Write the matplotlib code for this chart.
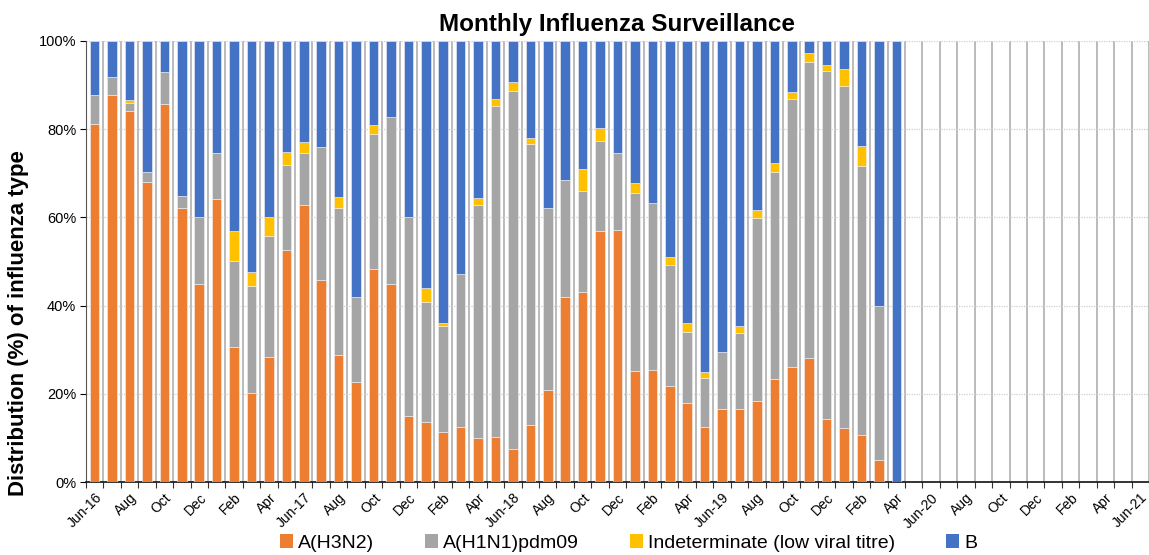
import numpy as np
import matplotlib.pyplot as plt
from matplotlib.patches import Patch

plt.rcParams['font.family'] = ['Liberation Sans', 'DejaVu Sans']

# === Data (percent of each influenza type per month, Jun-16 .. Apr-20) ===
h3n2 = [81.1, 87.7, 84.0, 68.1, 85.7, 62.2, 45.0, 64.2, 30.7, 20.3, 28.4, 52.5,
        62.9, 45.7, 28.9, 22.6, 48.2, 44.8, 14.9, 13.7, 11.5, 12.6, 10.0, 10.3,
        7.5, 12.9, 20.8, 42.0, 43.1, 57.0, 57.1, 25.2, 25.5, 21.7, 18.0, 12.5,
        16.7, 16.5, 18.3, 23.4, 26.0, 28.2, 14.4, 12.4, 10.8, 5.0, 0.0]
h1n1 = [6.6, 4.1, 2.0, 2.2, 7.2, 2.6, 15.0, 10.4, 19.3, 24.2, 27.4, 19.4,
        11.7, 30.2, 33.3, 19.4, 30.6, 37.9, 45.1, 27.1, 23.8, 34.6, 52.9, 74.9,
        81.1, 63.8, 41.3, 26.5, 22.9, 20.3, 17.5, 40.2, 37.7, 27.4, 16.0, 11.1,
        12.7, 17.2, 41.6, 46.8, 60.9, 66.9, 78.7, 77.3, 60.9, 35.0, 0.0]
indet = [0.0, 0.0, 0.5, 0.0, 0.0, 0.0, 0.0, 0.0, 6.8, 3.1, 4.2, 3.0,
         2.5, 0.0, 2.3, 0.0, 2.0, 0.0, 0.0, 3.3, 0.8, 0.0, 1.4, 1.6,
         2.0, 1.3, 0.0, 0.0, 4.9, 2.9, 0.0, 2.4, 0.0, 1.9, 2.0, 1.4,
         0.0, 1.8, 1.8, 2.2, 1.5, 2.0, 1.4, 4.0, 4.4, 0.0, 0.0]
flu_b = [12.3, 8.2, 13.5, 29.7, 7.1, 35.2, 40.0, 25.4, 43.2, 52.4, 40.0, 25.1,
         22.9, 24.1, 35.5, 58.0, 19.2, 17.3, 40.0, 55.9, 63.9, 52.8, 35.7, 13.2,
         9.4, 22.0, 37.9, 31.5, 29.1, 19.8, 25.4, 32.2, 36.8, 49.0, 64.0, 75.0,
         70.6, 64.5, 38.3, 27.6, 11.6, 2.9, 5.5, 6.3, 23.9, 60.0, 100.0]

# axis runs Jun-16 .. Jun-21 (61 months), labelled every second month
tick_labels = ['Jun-16', 'Aug', 'Oct', 'Dec', 'Feb', 'Apr',
               'Jun-17', 'Aug', 'Oct', 'Dec', 'Feb', 'Apr',
               'Jun-18', 'Aug', 'Oct', 'Dec', 'Feb', 'Apr',
               'Jun-19', 'Aug', 'Oct', 'Dec', 'Feb', 'Apr',
               'Jun-20', 'Aug', 'Oct', 'Dec', 'Feb', 'Apr',
               'Jun-21']
n_months = 61

series = [('A(H3N2)', h3n2, '#ED7D31'),
          ('A(H1N1)pdm09', h1n1, '#A5A5A5'),
          ('Indeterminate (low viral titre)', indet, '#FFC000'),
          ('B', flu_b, '#4472C4')]

# === Figure ===
fig = plt.figure(figsize=(11.49, 5.55), dpi=100)
ax = fig.add_axes([0.0748, 0.131, 0.9252, 0.7957])

x = np.arange(len(h3n2))
bottom = np.zeros(len(h3n2))
for name, vals, col in series:
    v = np.array(vals)
    ax.bar(x, v, width=0.55, bottom=bottom, color=col,
           edgecolor='#f2f2f2', linewidth=0.4, zorder=3)
    bottom += v

ax.set_xlim(-0.5, 60.14)
ax.set_ylim(0, 100)

# vertical lines at month boundaries
for b in np.arange(0.5, n_months + 0.5, 1):
    ax.axvline(b, color='#a8a8a8', lw=1.1, zorder=1)

ax.set_yticks(np.arange(0, 101, 20))
ax.set_yticklabels([f'{v}%' for v in range(0, 101, 20)])
ax.yaxis.grid(True, color='#cfcfcf', linestyle=(0, (1, 1)), lw=0.9, zorder=0)

ax.set_xticks(np.arange(0, n_months, 2))
ax.set_xticklabels(tick_labels, rotation=45, ha='right', rotation_mode='anchor')
ax.set_xticks(np.arange(-0.5, n_months, 1), minor=True)
ax.tick_params(axis='x', which='major', length=0, labelsize=10, pad=6)
ax.tick_params(axis='x', which='minor', length=4, width=0.8, color='#333333')
ax.tick_params(axis='y', length=4, width=0.8, labelsize=10.5, pad=3)

for s in ['top', 'right']:
    ax.spines[s].set_visible(False)
ax.spines['left'].set_color('#555555')
ax.spines['bottom'].set_color('#111111')
ax.spines['bottom'].set_linewidth(1.2)

ax.set_title('Monthly Influenza Surveillance', fontsize=17.5, fontweight='bold', pad=7)
ax.set_ylabel('Distribution (%) of influenza type', fontsize=16, fontweight='bold')
ax.yaxis.set_label_coords(-0.054, 0.36)

handles = [Patch(facecolor=c, label=n) for n, _, c in series]
fig.legend(handles=handles, loc='center', bbox_to_anchor=(0.547, 0.022), ncol=4,
           frameon=False, fontsize=14, handlelength=0.7, handleheight=0.7,
           handletextpad=0.25, columnspacing=2.6)

plt.savefig('out.png', dpi=100)
